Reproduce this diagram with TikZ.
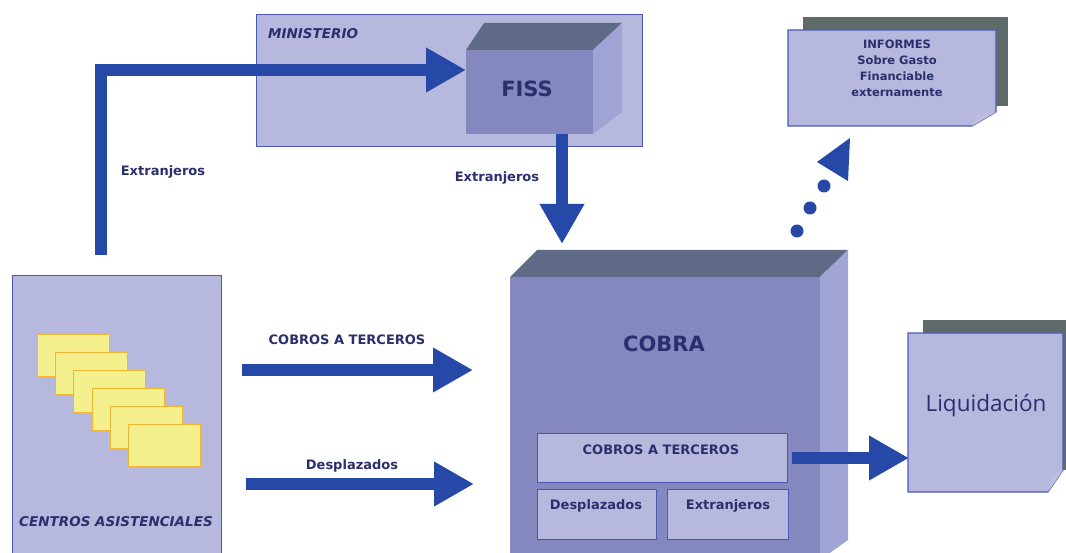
\documentclass[tikz,border=0pt]{standalone}
\usepackage{fontspec}
\setmainfont{DejaVu Sans}
\newfontfamily\liqfont{Open Sans}
\usetikzlibrary{arrows.meta,calc}
\definecolor{panel}{HTML}{B6B8DD}
\definecolor{panelborder}{HTML}{4D58B4}
\definecolor{cubefront}{HTML}{8588BE}
\definecolor{cubetop}{HTML}{5E6A86}
\definecolor{cuberight}{HTML}{A0A4D4}
\definecolor{arrowblue}{HTML}{2648A6}
\definecolor{txt}{HTML}{2B2F6E}
\definecolor{shadowc}{HTML}{5F6B6A}
\definecolor{cardfill}{HTML}{F5F08E}
\definecolor{cardborder}{HTML}{F2B530}
\tikzset{
  panelbox/.style={draw=panelborder, line width=1.2pt, fill=panel, inner sep=0pt, anchor=north west},
  innerbox/.style={draw=panelborder, line width=1pt, fill=panel, inner sep=0pt, anchor=north west},
  card/.style={draw=cardborder, line width=1pt, fill=cardfill, minimum width=72pt, minimum height=42pt, inner sep=0pt, anchor=north west},
  lbl/.style={text=txt, font=\bfseries\fontsize{13}{15}\selectfont, inner sep=0pt},
  itlbl/.style={text=txt, font=\bfseries\itshape\fontsize{13.5}{15}\selectfont, inner sep=0pt},
  bigarrow/.style={draw=arrowblue, line width=12pt, -{Triangle[length=40pt,width=42pt]}},
  dot/.style={circle, fill=arrowblue, minimum size=13pt, inner sep=0pt},
}
\begin{document}
\begin{tikzpicture}[x=1pt,y=-1pt]
\useasboundingbox (0,0) rectangle (1066,553);
\fill[white] (0,0) rectangle (1066,553);

% MINISTERIO panel
\node[panelbox, minimum width=386pt, minimum height=132pt] (min) at (256,14) {};
\node[itlbl, anchor=west] (minl) at (268,34) {MINISTERIO};

% FISS cube
\fill[cubetop] (466,50) -- (484,23) -- (622,23) -- (593,50) -- cycle;
\fill[cuberight] (593,50) -- (622,23) -- (622,112) -- (593,134) -- cycle;
\node[fill=cubefront, minimum width=127pt, minimum height=84pt, inner sep=0pt, anchor=north west] (fiss) at (466,50) {};
\node[lbl, font=\bfseries\fontsize{21}{24}\selectfont] (fissl) at (527,89) {FISS};

% CENTROS ASISTENCIALES panel
\node[panelbox, minimum width=209pt, minimum height=285pt] (cen) at (12,275) {};
\foreach \i in {0,...,5}{
  \node[card] (card\i) at ({37+18.2*\i},{334+18*\i}) {};
}
\node[itlbl] (cenl) at (116,522) {CENTROS ASISTENCIALES};

% COBRA cube
\fill[cubetop] (510,277) -- (537,250) -- (848,250) -- (820,277) -- cycle;
\fill[cuberight] (820,277) -- (848,250) -- (848,540) -- (820,560) -- cycle;
\node[fill=cubefront, minimum width=310pt, minimum height=290pt, inner sep=0pt, anchor=north west] (cobra) at (510,277) {};
\node[lbl, font=\bfseries\fontsize{21}{24}\selectfont] (cobral) at (664,344) {COBRA};
\node[innerbox, minimum width=250pt, minimum height=49pt] (ct) at (537,433) {};
\node[lbl] at (661,450) {COBROS A TERCEROS};
\node[innerbox, minimum width=119pt, minimum height=50pt] (desp) at (537,489) {};
\node[lbl] at (596,506) {Desplazados};
\node[innerbox, minimum width=121pt, minimum height=50pt] (extr) at (667,489) {};
\node[lbl] at (728,506) {Extranjeros};

% INFORMES paper
\fill[shadowc] (803,17) rectangle (1008,106);
\draw[panelborder, line width=1.2pt, fill=panel] (788,30) -- (996,30) -- (996,112) -- (972,126) -- (788,126) -- cycle;
\fill[cuberight!70!white] (972,126) -- (978,115) -- (996,112) -- cycle;
\node[lbl, align=center, font=\bfseries\fontsize{11.5}{16}\selectfont] (inf) at (897,68) {INFORMES\\Sobre Gasto\\Financiable\\externamente};

% Liquidacion paper
\fill[shadowc] (923,320) rectangle (1066,470);
\draw[panelborder, line width=1.2pt, fill=panel] (908,333) -- (1063,333) -- (1063,470) -- (1048,492) -- (908,492) -- cycle;
\fill[cuberight!70!white] (1048,492) -- (1052,477) -- (1063,470) -- cycle;
\node[text=txt, font=\liqfont\fontsize{22.5}{26}\selectfont, inner sep=0pt] (liq) at (986,406) {Liquidación};

% Arrows
\coordinate (startL) at (101,255);
\coordinate (fissin) at (466,70);
\draw[bigarrow] (startL) -- (101,70) -- (fissin);
\node[lbl] (ex1) at (163,172) {Extranjeros};

\coordinate (fissout) at (562,134);
\coordinate (cobratop) at (562,244);
\draw[bigarrow] (fissout) -- (cobratop);
\node[lbl] (ex2) at (497,178) {Extranjeros};

\coordinate (a1s) at (242,370);
\coordinate (a1e) at (473,370);
\draw[bigarrow] (a1s) -- (a1e);
\node[lbl] (l1) at (347,340) {COBROS A TERCEROS};

\coordinate (a2s) at (246,484);
\coordinate (a2e) at (474,484);
\draw[bigarrow] (a2s) -- (a2e);
\node[lbl] (l2) at (352,466) {Desplazados};

\coordinate (liqin) at (909,458);
\draw[bigarrow] (ct.east |- liqin) ++(4,0) -- (liqin);

% dotted arrow to INFORMES
\node[dot] (d1) at (797,231) {};
\node[dot] (d2) at (810,208) {};
\node[dot] (d3) at (824,186) {};
\fill[arrowblue] (850,138) -- (817,162) -- (848,181) -- cycle;
\end{tikzpicture}
\end{document}
